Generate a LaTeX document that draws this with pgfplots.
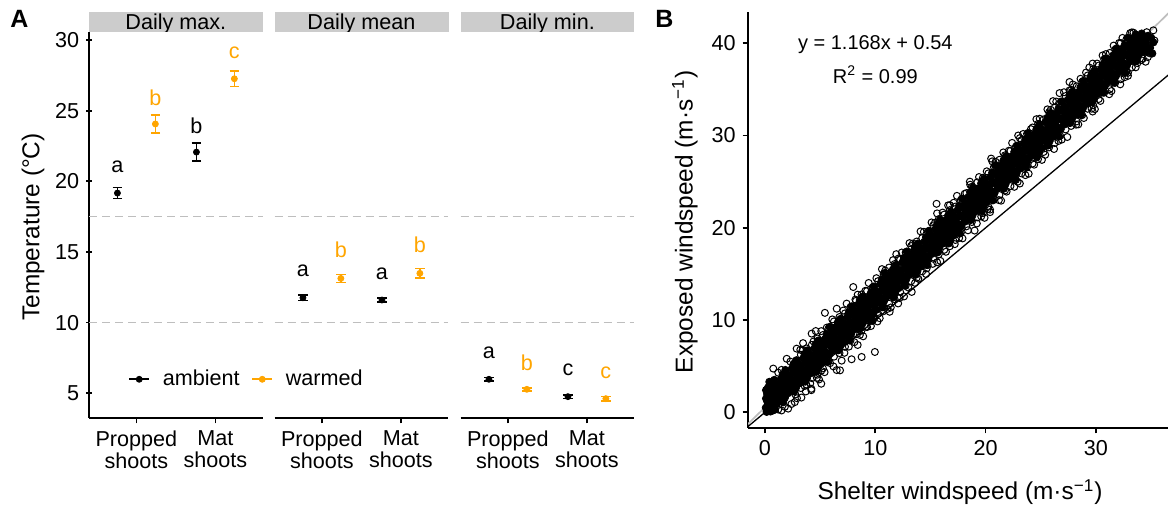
\documentclass[border=0pt]{standalone}
\usepackage{fontspec}
\setmainfont{Liberation Sans}
\usepackage{pgfplots}
\pgfplotsset{compat=1.18}
\definecolor{warm}{HTML}{FFA500}
\definecolor{dashgray}{HTML}{BEBEBE}
\definecolor{stripgray}{HTML}{CCCCCC}
\newcommand\ts{\fontsize{10.8}{11}\selectfont}
\newcommand\titlesize{\fontsize{12.2}{13}\selectfont}
\pgfplotsset{
 facet/.style={
  scale only axis, width=86.9pt, height=193pt,
  xmin=0.4, xmax=2.6, ymin=3.25, ymax=30.57,
  axis x line=bottom,
  xtick={1,2}, xticklabels={{Propped\\shoots},{Mat\\shoots}},
  xticklabel style={align=center, font=\ts},
  yticklabel style={font=\ts},
  /pgf/number format/assume math mode=true,
  tick align=outside, major tick length=2.7pt,
  tick style={black, line width=0.85pt},
  clip=false,
 },
 amb/.style={black, only marks, mark=*, mark size=1.5pt,
  error bars/y dir=both, error bars/y explicit,
  error bars/error bar style={line width=0.8pt, black},
  error bars/error mark options={rotate=90, mark size=2.4pt, line width=0.8pt, black}},
 wrm/.style={warm, only marks, mark=*, mark size=1.5pt,
  error bars/y dir=both, error bars/y explicit,
  error bars/error bar style={line width=0.8pt, warm},
  error bars/error mark options={rotate=90, mark size=2.4pt, line width=0.8pt, warm}},
 lets/.style={draw=none, mark=none, nodes near coords, point meta=explicit symbolic,
  nodes near coords style={anchor=center, font=\ts, text=#1}},
 dash/.style={dashgray, line width=0.8pt, dash pattern=on 4pt off 2.5pt},
}
\begin{document}
\begin{tikzpicture}
\path[use as bounding box] (0,0) rectangle (584pt,257pt);

% ---------- Facet 1: Daily max.
\begin{axis}[facet, at={(44.5pt,48pt)}, anchor=south west,
  axis y line=left, ytick={5,10,15,20,25,30},
  axis line style={-, line width=0.85pt},
  legend style={at={(0.2245,0.1003)}, anchor=west, draw=none, fill=none,
    legend columns=2, font=\ts, inner sep=0pt,
    /tikz/every odd column/.append style={column sep=4.4pt},
    /tikz/every even column/.append style={column sep=3.9pt}}]
\addplot[forget plot, dash] coordinates {(0.4,17.5) (2.6,17.5)};
\addplot[forget plot, dash] coordinates {(0.4,10) (2.6,10)};
\addplot[forget plot, amb] coordinates {(0.76,19.17) +- (0,0.38) (1.76,22.07) +- (0,0.65)};
\addplot[forget plot, wrm] coordinates {(1.24,24.06) +- (0,0.65) (2.24,27.26) +- (0,0.55)};
\addplot[forget plot, lets=black] coordinates {(0.76,21.03)[a] (1.76,23.94)[b]};
\addplot[forget plot, lets=warm] coordinates {(1.24,25.92)[b] (2.24,29.13)[c]};
\addlegendimage{legend image code/.code={\draw[black, line width=0.8pt] (0pt,0pt) -- (10pt,0pt); \fill[black] (5pt,0pt) circle (1.5pt);}}
\addlegendentry{ambient}
\addlegendimage{legend image code/.code={\draw[warm, line width=0.8pt] (0pt,0pt) -- (10pt,0pt); \fill[warm] (5pt,0pt) circle (1.5pt);}}
\addlegendentry{warmed}
\end{axis}

% ---------- Facet 2: Daily mean
\begin{axis}[facet, at={(137.25pt,48pt)}, anchor=south west,
  axis y line=none, ytick=\empty, axis line style={-, line width=0.85pt}]
\addplot[dash] coordinates {(0.4,17.5) (2.6,17.5)};
\addplot[dash] coordinates {(0.4,10) (2.6,10)};
\addplot[amb] coordinates {(0.76,11.76) +- (0,0.2) (1.76,11.60) +- (0,0.15)};
\addplot[wrm] coordinates {(1.24,13.13) +- (0,0.28) (2.24,13.49) +- (0,0.35)};
\addplot[lets=black] coordinates {(0.76,13.67)[a] (1.76,13.49)[a]};
\addplot[lets=warm] coordinates {(1.24,15.14)[b] (2.24,15.49)[b]};
\end{axis}

% ---------- Facet 3: Daily min.
\begin{axis}[facet, at={(230.25pt,48pt)}, anchor=south west,
  axis y line=none, ytick=\empty, axis line style={-, line width=0.85pt}]
\addplot[dash] coordinates {(0.4,17.5) (2.6,17.5)};
\addplot[dash] coordinates {(0.4,10) (2.6,10)};
\addplot[amb] coordinates {(0.76,5.99) +- (0,0.12) (1.76,4.76) +- (0,0.12)};
\addplot[wrm] coordinates {(1.24,5.28) +- (0,0.1) (2.24,4.62) +- (0,0.15)};
\addplot[lets=black] coordinates {(0.76,7.83)[a] (1.76,6.65)[c]};
\addplot[lets=warm] coordinates {(1.24,7.16)[b] (2.24,6.48)[c]};
\end{axis}

% strips
\foreach \xa/\xb/\lab in {44.5/131.35/{Daily max.}, 137.25/224.25/{Daily mean}, 230.25/317.15/{Daily min.}}{
  \fill[stripgray] (\xa pt,241pt) rectangle (\xb pt,251pt);
  \begin{scope}
  \clip (\xa pt,241pt) rectangle (\xb pt,251pt);
  \node[anchor=base, font=\ts, inner sep=0pt] at ({(\xa+\xb)/2*1pt},242.3pt) {\lab};
  \end{scope}
}

\node[rotate=90, font=\titlesize] at (16.5pt,143.5pt) {Temperature (°C)};
\node[anchor=base west, font=\bfseries\fontsize{12.5}{13}\selectfont, inner sep=0pt] at (5pt,243pt) {A};
\node[anchor=base west, font=\bfseries\fontsize{12.5}{13}\selectfont, inner sep=0pt] at (327.5pt,243pt) {B};

% ---------- Panel B
\begin{axis}[at={(374pt,43pt)}, anchor=south west, scale only axis,
  width=210pt, height=208pt,
  xmin=-1.54, xmax=36.53, ymin=-1.70, ymax=43.39,
  axis x line=bottom, axis y line=left, axis line style={-, line width=0.85pt},
  xtick={0,10,20,30}, ytick={0,10,20,30,40},
  ticklabel style={font=\ts},
  /pgf/number format/assume math mode=true,
  tick align=outside, major tick length=2.7pt,
  tick style={black, line width=0.85pt}]
\addplot[black, line width=0.65pt] coordinates {(-2,-2) (38,38)};
% dense core of the scatter band (overlapping circles read as solid black)
\addplot[only marks, mark=*, mark size=1.85pt, mark options={black, draw=black, fill=black}] coordinates {
(0.08,0.5) (0.1,1.5) (0.1,2.4)
(0.15,0.05) (0.25,0.3) (0.35,0.6) (0.3,0.95) (0.4,1.3) (0.3,1.65) (0.35,2.0) (0.4,2.35) (0.3,2.7) (0.45,3.0)
(0.5,0.1) (0.55,0.45) (0.6,0.8) (0.5,1.15) (0.6,1.5) (0.55,1.85) (0.5,2.2) (0.6,2.55) (0.55,2.9) (0.65,3.25)
(0.7,0.2) (0.75,0.6) (0.8,1.0) (0.7,1.4) (0.8,1.8) (0.75,2.2) (0.7,2.6) (0.8,3.0) (0.2,1.2) (0.2,2.0) (0.25,2.6)
(0.9,0.3) (0.95,0.8) (0.9,2.3) (0.4,3.3)
(0.80,0.51) (1.10,1.01) (0.90,1.51) (1.20,2.01) (0.95,2.51) (1.15,3.01) (0.85,3.51)
(1.65,1.09) (1.35,1.59) (1.55,2.09) (1.30,2.59) (1.70,3.09) (1.45,3.59) (1.60,4.09)
(1.80,1.58) (2.10,2.08) (1.90,2.58) (2.20,3.08) (1.95,3.58) (2.15,4.08) (1.85,4.58)
(2.65,2.26) (2.35,2.76) (2.55,3.26) (2.30,3.76) (2.70,4.26) (2.45,4.76) (2.60,5.26)
(2.80,2.64) (3.10,3.14) (2.90,3.64) (3.20,4.14) (2.95,4.64) (3.15,5.14) (2.85,5.64)
(3.65,3.33) (3.35,3.83) (3.55,4.33) (3.30,4.83) (3.70,5.33) (3.45,5.83) (3.60,6.33)
(3.80,3.71) (4.10,4.21) (3.90,4.71) (4.20,5.21) (3.95,5.71) (4.15,6.21) (3.85,6.71)
(4.65,4.40) (4.35,4.90) (4.55,5.40) (4.30,5.90) (4.70,6.40) (4.45,6.90) (4.60,7.40)
(4.80,4.78) (5.10,5.28) (4.90,5.78) (5.20,6.28) (4.95,6.78) (5.15,7.28) (4.85,7.78)
(5.65,5.46) (5.35,5.96) (5.55,6.46) (5.30,6.96) (5.70,7.46) (5.45,7.96) (5.60,8.46)
(5.80,6.25) (6.10,6.75) (5.90,7.25) (6.20,7.75) (5.95,8.25) (6.15,8.75) (5.85,9.25)
(6.65,6.73) (6.35,7.23) (6.55,7.73) (6.30,8.23) (6.70,8.73) (6.45,9.23) (6.60,9.73)
(6.80,7.12) (7.10,7.62) (6.90,8.12) (7.20,8.62) (6.95,9.12) (7.15,9.62) (6.85,10.12)
(7.65,7.80) (7.35,8.30) (7.55,8.80) (7.30,9.30) (7.70,9.80) (7.45,10.30) (7.60,10.80)
(7.80,8.48) (8.10,8.98) (7.90,9.48) (8.20,9.98) (7.95,10.48) (8.15,10.98) (7.85,11.48)
(8.65,9.17) (8.35,9.67) (8.55,10.17) (8.30,10.67) (8.70,11.17) (8.45,11.67) (8.60,12.17)
(8.80,9.55) (9.10,10.05) (8.90,10.55) (9.20,11.05) (8.95,11.55) (9.15,12.05) (8.85,12.55)
(9.65,9.94) (9.35,10.44) (9.55,10.94) (9.30,11.44) (9.70,11.94) (9.45,12.44) (9.60,12.94)
(9.80,10.62) (10.10,11.12) (9.90,11.62) (10.20,12.12) (9.95,12.62) (10.15,13.12) (9.85,13.62)
(10.65,11.40) (10.35,11.90) (10.55,12.40) (10.30,12.90) (10.70,13.40) (10.45,13.90) (10.60,14.40)
(10.80,12.09) (11.10,12.59) (10.90,13.09) (11.20,13.59) (10.95,14.09) (11.15,14.59) (10.85,15.09)
(11.65,12.47) (11.35,12.97) (11.55,13.47) (11.30,13.97) (11.70,14.47) (11.45,14.97) (11.60,15.47)
(11.80,12.96) (12.10,13.46) (11.90,13.96) (12.20,14.46) (11.95,14.96) (12.15,15.46) (11.85,15.96)
(12.65,13.74) (12.35,14.24) (12.55,14.74) (12.30,15.24) (12.70,15.74) (12.45,16.24) (12.60,16.74)
(12.80,14.42) (13.10,14.92) (12.90,15.42) (13.20,15.92) (12.95,16.42) (13.15,16.92) (12.85,17.42)
(13.65,14.91) (13.35,15.41) (13.55,15.91) (13.30,16.41) (13.70,16.91) (13.45,17.41) (13.60,17.91)
(13.80,15.29) (14.10,15.79) (13.90,16.29) (14.20,16.79) (13.95,17.29) (14.15,17.79) (13.85,18.29)
(14.65,15.98) (14.35,16.48) (14.55,16.98) (14.30,17.48) (14.70,17.98) (14.45,18.48) (14.60,18.98)
(14.80,16.66) (15.10,17.16) (14.90,17.66) (15.20,18.16) (14.95,18.66) (15.15,19.16) (14.85,19.66)
(15.65,17.34) (15.35,17.84) (15.55,18.34) (15.30,18.84) (15.70,19.34) (15.45,19.84) (15.60,20.34)
(15.80,17.83) (16.10,18.33) (15.90,18.83) (16.20,19.33) (15.95,19.83) (16.15,20.33) (15.85,20.83)
(16.65,18.31) (16.35,18.81) (16.55,19.31) (16.30,19.81) (16.70,20.31) (16.45,20.81) (16.60,21.31)
(16.80,18.70) (17.10,19.20) (16.90,19.70) (17.20,20.20) (16.95,20.70) (17.15,21.20) (16.85,21.70)
(17.65,19.38) (17.35,19.88) (17.55,20.38) (17.30,20.88) (17.70,21.38) (17.45,21.88) (17.60,22.38)
(17.80,20.16) (18.10,20.66) (17.90,21.16) (18.20,21.66) (17.95,22.16) (18.15,22.66) (17.85,23.16)
(18.65,20.85) (18.35,21.35) (18.55,21.85) (18.30,22.35) (18.70,22.85) (18.45,23.35) (18.60,23.85)
(18.80,21.33) (19.10,21.83) (18.90,22.33) (19.20,22.83) (18.95,23.33) (19.15,23.83) (18.85,24.33)
(19.65,21.82) (19.35,22.32) (19.55,22.82) (19.30,23.32) (19.70,23.82) (19.45,24.32) (19.60,24.82)
(19.80,22.30) (20.10,22.80) (19.90,23.30) (20.20,23.80) (19.95,24.30) (20.15,24.80) (19.85,25.30)
(20.65,22.98) (20.35,23.48) (20.55,23.98) (20.30,24.48) (20.70,24.98) (20.45,25.48) (20.60,25.98)
(20.80,23.77) (21.10,24.27) (20.90,24.77) (21.20,25.27) (20.95,25.77) (21.15,26.27) (20.85,26.77)
(21.65,24.25) (21.35,24.75) (21.55,25.25) (21.30,25.75) (21.70,26.25) (21.45,26.75) (21.60,27.25)
(21.80,24.74) (22.10,25.24) (21.90,25.74) (22.20,26.24) (21.95,26.74) (22.15,27.24) (21.85,27.74)
(22.65,25.22) (22.35,25.72) (22.55,26.22) (22.30,26.72) (22.70,27.22) (22.45,27.72) (22.60,28.22)
(22.80,25.90) (23.10,26.40) (22.90,26.90) (23.20,27.40) (22.95,27.90) (23.15,28.40) (22.85,28.90)
(23.65,26.59) (23.35,27.09) (23.55,27.59) (23.30,28.09) (23.70,28.59) (23.45,29.09) (23.60,29.59)
(23.80,27.27) (24.10,27.77) (23.90,28.27) (24.20,28.77) (23.95,29.27) (24.15,29.77) (23.85,30.27)
(24.65,27.66) (24.35,28.16) (24.55,28.66) (24.30,29.16) (24.70,29.66) (24.45,30.16) (24.60,30.66)
(24.80,28.14) (25.10,28.64) (24.90,29.14) (25.20,29.64) (24.95,30.14) (25.15,30.64) (24.85,31.14)
(25.65,28.92) (25.35,29.42) (25.55,29.92) (25.30,30.42) (25.70,30.92) (25.45,31.42) (25.60,31.92)
(25.80,29.41) (26.10,29.91) (25.90,30.41) (26.20,30.91) (25.95,31.41) (26.15,31.91) (25.85,32.41)
(26.65,29.89) (26.35,30.39) (26.55,30.89) (26.30,31.39) (26.70,31.89) (26.45,32.39) (26.60,32.89)
(26.80,30.68) (27.10,31.18) (26.90,31.68) (27.20,32.18) (26.95,32.68) (27.15,33.18) (26.85,33.68)
(27.65,31.36) (27.35,31.86) (27.55,32.36) (27.30,32.86) (27.70,33.36) (27.45,33.86) (27.60,34.36)
(27.80,31.74) (28.10,32.24) (27.90,32.74) (28.20,33.24) (27.95,33.74) (28.15,34.24) (27.85,34.74)
(28.65,32.23) (28.35,32.73) (28.55,33.23) (28.30,33.73) (28.70,34.23) (28.45,34.73) (28.60,35.23)
(28.80,32.91) (29.10,33.41) (28.90,33.91) (29.20,34.41) (28.95,34.91) (29.15,35.41) (28.85,35.91)
(29.65,33.60) (29.35,34.10) (29.55,34.60) (29.30,35.10) (29.70,35.60) (29.45,36.10) (29.60,36.60)
(29.80,33.98) (30.10,34.48) (29.90,34.98) (30.20,35.48) (29.95,35.98) (30.15,36.48) (29.85,36.98)
(30.65,34.66) (30.35,35.16) (30.55,35.66) (30.30,36.16) (30.70,36.66) (30.45,37.16) (30.60,37.66)
(30.80,35.35) (31.10,35.85) (30.90,36.35) (31.20,36.85) (30.95,37.35) (31.15,37.85) (30.85,38.35)
(31.65,35.73) (31.35,36.23) (31.55,36.73) (31.30,37.23) (31.70,37.73) (31.45,38.23) (31.60,38.73)
(31.80,36.42) (32.10,36.92) (31.90,37.42) (32.20,37.92) (31.95,38.42) (32.15,38.92) (31.85,39.42)
(32.65,36.80) (32.35,37.30) (32.55,37.80) (32.30,38.30) (32.70,38.80) (32.45,39.30) (32.60,39.80)
(32.80,37.58) (33.10,38.08) (32.90,38.58) (33.20,39.08) (32.95,39.58) (33.15,40.08) (32.85,40.58)
(33.65,38.07) (33.35,38.57) (33.55,39.07) (33.30,39.57) (33.70,40.07) (33.45,40.57) (33.60,40.95)
(33.80,38.55) (34.10,39.05) (33.90,39.55) (34.20,40.05) (33.95,40.55) (34.15,41.05)
(34.65,39.04) (34.35,39.54) (34.55,40.04) (34.30,40.54) (34.70,40.80)
(35.10,38.90) (34.90,39.50) (35.20,40.10) (35.00,40.60)
};
% scattered edge points of the band
\addplot[only marks, mark=o, mark size=1.75pt, mark options={line width=0.5pt, black}] coordinates {
(1.2,0.3) (1.5,0.2) (2.1,0.4) (2.7,1.1) (1.8,0.6) (2.4,0.9) (0.75,4.74) (1.5,4.6) (1.97,5.8) (2.87,6.9)
(3.45,7.5) (1.2,4.3) (2.3,5.5) (3.3,1.6) (4.2,2.4) (5.1,3.1)
(3.2,6.78) (2.9,1.53) (3.4,6.71) (3.7,2.26) (3.6,2.85) (4.23,8.53) (4.1,3.13) (4.2,2.55)
(4.4,7.68) (4.6,8.81) (4.7,3.73) (5.1,8.80) (4.9,3.56) (5.1,4.50) (5.43,10.78) (5.6,9.18) (5.4,4.35)
(6.1,10.07) (6.2,4.98) (5.9,5.33) (6.5,11.23) (6.5,4.58) (6.8,4.55) (6.95,5.6) (7.1,11.03) (7.2,6.45)
(7.4,11.78) (7.85,5.75) (7.6,7.12) (8.0,13.58) (8.2,12.22) (8.1,7.60) (8.4,12.75) (8.4,7.3) (8.76,6.0) (8.6,8.39)
(9.1,13.17) (8.9,8.24) (9.2,9.29) (9.4,14.02) (9.6,9.35) (10.1,14.54) (9.96,6.54) (10.2,9.85) (9.9,10.20)
(10.6,15.52) (10.4,10.2) (10.7,10.94) (10.9,15.37) (11.3,10.9) (11.1,11.21) (11.6,16.49) (11.4,11.36)
(12.1,16.67) (11.9,17.14) (12.2,12.39) (12.07,11.8) (12.4,17.32) (12.6,12.56) (13.1,18.34) (13.0,13.52) (13.3,13.05)
(13.4,18.29) (13.6,14.03) (14.1,19.61) (13.9,14.48) (14.4,19.56) (14.6,14.99) (14.65,15.6)
(15.1,20.58) (15.2,16.09) (15.4,20.53) (15.6,21.56) (15.6,16.26) (15.55,22.6) (16.1,21.65) (15.9,16.41)
(16.6,22.43) (16.4,17.40) (16.76,22.45) (17.1,22.71) (17.2,18.23) (17.4,23.46) (17.6,18.90)
(18.1,23.68) (17.9,18.85) (18.6,24.67) (18.4,19.73) (19.0,19.7) (18.57,25.0) (19.2,20.47)
(19.4,25.50) (19.6,21.23) (20.1,26.12) (19.9,21.08) (20.2,22.03) (20.4,21.7) (20.6,27.20) (20.4,21.97)
(20.9,27.15) (20.5,27.5) (21.2,23.00) (21.6,28.17) (21.4,22.94) (23.1,24.8) (22.1,28.35) (21.9,23.92)
(22.4,29.20) (22.6,24.44) (23.1,29.72) (22.9,24.99) (22.95,30.0) (23.4,30.17) (23.6,25.71)
(24.1,30.69) (23.9,25.86) (24.6,31.77) (24.4,26.84) (24.9,31.82) (25.1,27.36) (25.6,32.84) (25.4,27.91)
(25.9,32.79) (26.1,33.73) (26.2,28.54) (26.4,33.68) (26.6,29.41) (27.1,34.69) (26.9,29.56) (26.7,34.6)
(27.6,34.88) (27.4,29.84) (27.6,35.8) (27.9,35.53) (28.2,31.18) (28.6,36.15) (28.4,31.21)
(29.1,36.83) (28.9,31.90) (29.4,37.38) (29.6,32.91) (29.7,32.6) (29.7,37.8) (30.1,37.80) (29.9,32.86)
(30.6,38.68) (30.4,33.75) (30.9,38.83) (31.2,34.48) (31.6,39.75) (31.4,34.82) (32.1,40.03) (32.2,35.55)
(32.4,40.58) (32.6,36.32) (32.9,36.8) (33.1,41.10) (32.9,36.47) (33.4,41.15) (33.6,37.39)
(34.6,41.2) (34.1,38.17) (35.2,41.4) (34.7,38.5) (34.9,38.9) (35.3,40.3) (34.5,38.0)
(3.25,6.24) (2.75,1.94) (3.75,6.93) (3.25,2.63) (4.25,7.31) (3.75,3.01) (4.75,8.00) (4.25,3.70)
(5.25,8.38) (4.75,4.08) (5.75,9.06) (5.25,4.76) (6.25,9.85) (5.75,5.55) (6.75,10.33) (6.25,6.03)
(7.25,10.72) (6.75,6.42) (7.75,11.40) (7.25,7.10) (8.25,12.08) (7.75,7.78) (8.75,12.77) (8.25,8.47)
(9.25,13.15) (8.75,8.85) (9.75,13.54) (9.25,9.24) (10.25,14.22) (9.75,9.92) (10.75,15.00) (10.25,10.70)
(11.25,15.69) (10.75,11.39) (11.75,16.07) (11.25,11.77) (12.25,16.56) (11.75,12.26) (12.75,17.34) (12.25,13.04)
(13.25,18.02) (12.75,13.72) (13.75,18.51) (13.25,14.21) (14.25,18.89) (13.75,14.59) (14.75,19.58) (14.25,15.28)
(15.25,20.26) (14.75,15.96) (15.75,20.94) (15.25,16.64) (16.25,21.43) (15.75,17.13) (16.75,21.91) (16.25,17.61)
(17.25,22.30) (16.75,18.00) (17.75,22.98) (17.25,18.68) (18.25,23.76) (17.75,19.46) (18.75,24.45) (18.25,20.15)
(19.25,24.93) (18.75,20.63) (19.75,25.42) (19.25,21.12) (20.25,25.90) (19.75,21.60) (20.75,26.58) (20.25,22.28)
(21.25,27.37) (20.75,23.07) (21.75,27.85) (21.25,23.55) (22.25,28.34) (21.75,24.04) (22.75,28.82) (22.25,24.52)
(23.25,29.50) (22.75,25.20) (23.75,30.19) (23.25,25.89) (24.25,30.87) (23.75,26.57) (24.75,31.26) (24.25,26.96)
(25.25,31.74) (24.75,27.44) (25.75,32.52) (25.25,28.22) (26.25,33.01) (25.75,28.71) (26.75,33.49) (26.25,29.19)
(27.25,34.28) (26.75,29.98) (27.75,34.96) (27.25,30.66) (28.25,35.34) (27.75,31.04) (28.75,35.83) (28.25,31.53)
(29.25,36.51) (28.75,32.21) (29.75,37.20) (29.25,32.90) (30.25,37.58) (29.75,33.28) (30.75,38.26) (30.25,33.96)
(31.25,38.95) (30.75,34.65) (31.75,39.33) (31.25,35.03) (32.25,40.02) (31.75,35.72) (32.75,40.40) (32.25,36.10)
(33.25,41.18) (32.75,36.88) (33.25,37.37) (33.75,37.85) (34.25,38.34)
};
\addplot[dashgray, line width=0.85pt] coordinates {(-2,-1.796) (38,44.924)};
\node[font=\fontsize{10}{12}\selectfont] at (axis cs:10,39.9) {y = 1.168x + 0.54};
\node[font=\fontsize{10}{12}\selectfont] at (axis cs:10,36.6) {R\textsuperscript{2} = 0.99};
\end{axis}

\node[rotate=90, font=\titlesize] at (342.5pt,146pt) {Exposed windspeed (m·s\textsuperscript{−1})};
\node[anchor=base, font=\titlesize] at (480pt,7pt) {Shelter windspeed (m·s\textsuperscript{−1})};
\end{tikzpicture}
\end{document}
